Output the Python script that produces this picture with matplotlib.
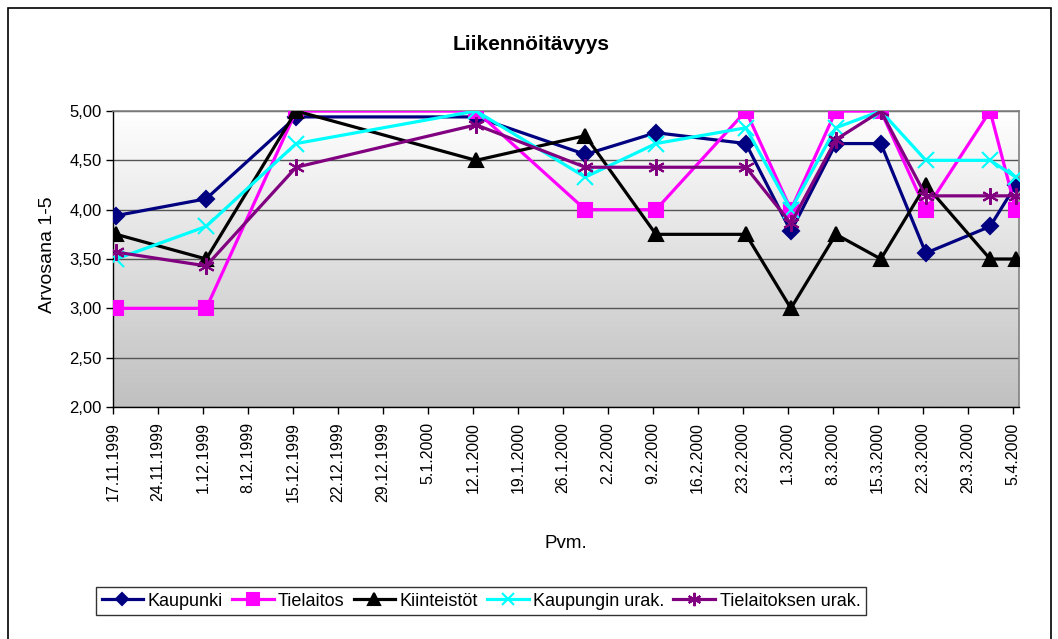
import matplotlib
matplotlib.use('Agg')
import matplotlib.pyplot as plt
from matplotlib.patches import Rectangle
from matplotlib.ticker import FuncFormatter
import numpy as np
import pandas as pd

plt.rcParams['font.family'] = ['Liberation Sans', 'DejaVu Sans']

#--------------- data -----------------------#
dates = ['1999-11-17', '1999-12-01', '1999-12-15', '2000-01-12', '2000-01-29',
         '2000-02-09', '2000-02-23', '2000-03-01', '2000-03-08', '2000-03-15',
         '2000-03-22', '2000-04-01', '2000-04-05']
kaupunki = [3.94, 4.11, 4.94, 4.94, 4.56, 4.78, 4.67, 3.78, 4.67, 4.67, 3.56, 3.83, 4.25]
tielaitos = [3.00, 3.00, 5.00, 5.00, 4.00, 4.00, 5.00, 4.00, 5.00, 5.00, 4.00, 5.00, 4.00]
kiinteistot = [3.75, 3.50, 5.00, 4.50, 4.75, 3.75, 3.75, 3.00, 3.75, 3.50, 4.25, 3.50, 3.50]
kaup_urak = [3.50, 3.83, 4.67, 5.00, 4.33, 4.67, 4.83, 4.00, 4.83, 5.00, 4.50, 4.50, 4.33]
tiel_urak = [3.57, 3.43, 4.43, 4.86, 4.43, 4.43, 4.43, 3.86, 4.71, 5.00, 4.14, 4.14, 4.14]

series = [
    ('Kaupunki', kaupunki, '#000080', 'D', 8),
    ('Tielaitos', tielaitos, '#FF00FF', 's', 10),
    ('Kiinteistöt', kiinteistot, '#000000', '^', 10),
    ('Kaupungin urak.', kaup_urak, '#00FFFF', 'x', 11),
    ('Tielaitoksen urak.', tiel_urak, '#800080', (6, 2, 0), 12),
]

x_start = pd.Timestamp('1999-11-17')
x_end = pd.Timestamp('2000-04-06')
tick_dates = pd.date_range('1999-11-17', '2000-04-05', freq='7D')
tick_labels = [f"{d.day}.{d.month}.{d.year}" for d in tick_dates]

#--------------- plot -----------------------#
fig = plt.figure(figsize=(10.58, 6.39), dpi=100)
ax = fig.add_axes([113/1058, 1-407/639, (1019-113)/1058, (407-111)/639])

# gradient plot area background (white -> gray)
grad = np.linspace(0, 1, 256).reshape(-1, 1)
ax.imshow(grad, cmap=matplotlib.colors.LinearSegmentedColormap.from_list('g', ['#ffffff', '#c0c0c0']),
          aspect='auto', extent=[0, 1, 0, 1], transform=ax.transAxes, zorder=0)

# points sit in the middle of their day (Excel date axis)
xs = pd.to_datetime(dates) + pd.Timedelta(hours=12)
handles = []
for name, vals, col, mk, ms in series:
    h, = ax.plot(xs, vals, color=col, lw=2.3, marker=mk, markersize=ms,
                 markerfacecolor=col, markeredgecolor=col, markeredgewidth=1.5,
                 label=name, zorder=3)
    handles.append(h)

ax.set_xlim(x_start, x_end)
ax.set_ylim(2.0, 5.0)
ax.set_yticks(np.arange(2.0, 5.01, 0.5))
ax.yaxis.set_major_formatter(FuncFormatter(lambda v, p: f"{v:.2f}".replace('.', ',')))
ax.set_xticks(tick_dates)
ax.set_xticklabels(tick_labels, rotation=90, fontsize=11.5)
ax.tick_params(axis='y', labelsize=12, direction='out', length=5, width=1, pad=3)
ax.tick_params(axis='x', direction='out', length=5, width=1, pad=6)

ax.grid(axis='y', color='#555555', lw=1, zorder=1)
ax.set_axisbelow(True)
for s in ['top', 'right']:
    ax.spines[s].set_color('#808080')
    ax.spines[s].set_linewidth(1.2)
for s in ['left', 'bottom']:
    ax.spines[s].set_color('#000000')
    ax.spines[s].set_linewidth(1)

fig.text(531/1058, 1-45/639, 'Liikennöitävyys', ha='center', va='center',
         fontsize=15, fontweight='bold')
fig.text(48/1058, 1-255/639, 'Arvosana 1-5', ha='center', va='center',
         rotation=90, fontsize=14)
fig.text(566/1058, 1-543/639, 'Pvm.', ha='center', va='center', fontsize=13.5)

leg = fig.legend(handles=handles, loc='center', bbox_to_anchor=(481/1058, 1-601/639),
                 ncol=5, fontsize=13, frameon=True, fancybox=False, markerscale=0.8,
                 handlelength=2.3, handletextpad=0.25, columnspacing=0.5,
                 borderpad=0.3, borderaxespad=0)
leg.get_frame().set_edgecolor('#000000')
leg.get_frame().set_linewidth(1)

# outer chart border
fig.patches.append(Rectangle((8/1058, -0.02), (1051-8)/1058, 1-8/639+0.02,
                             transform=fig.transFigure, fill=False,
                             edgecolor='#000000', lw=1.2))

plt.savefig('out.png', dpi=100)
